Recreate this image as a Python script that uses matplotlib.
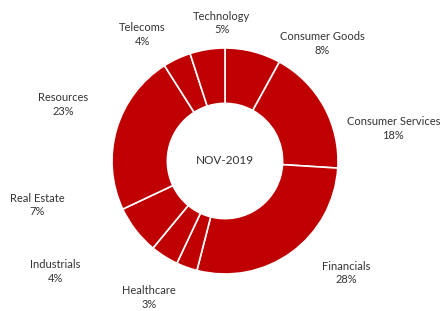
import matplotlib
matplotlib.use("Agg")
import matplotlib.pyplot as plt

# --- Data (clockwise from 12 o'clock) ---
sectors = ["Consumer Goods", "Consumer Services", "Financials", "Healthcare",
           "Industrials", "Real Estate", "Resources", "Telecoms", "Technology"]
weights = [8, 18, 28, 3, 4, 7, 23, 4, 5]
center_label = "NOV-2019"

# --- Label layout (data units, donut radius = 1) ---
label_pos = [(0.86, 1.04), (1.49, 0.29), (1.07, -0.99), (-0.67, -1.21),
             (-1.50, -0.98), (-1.66, -0.39), (-1.43, 0.50), (-0.73, 1.12),
             (-0.03, 1.22)]

plt.rcParams['font.family'] = ['Lato', 'DejaVu Sans']

fig = plt.figure(figsize=(4.42, 3.11), dpi=100)
ax = fig.add_axes([0, 0, 1, 1])

ax.pie(weights, startangle=90, counterclock=False, radius=1,
       colors=['#C00000'] * len(weights),
       wedgeprops=dict(width=0.49, edgecolor='white', linewidth=1.2))

for name, w, (x, y) in zip(sectors, weights, label_pos):
    ax.text(x, y, f"{name}\n{w}%", ha='center', va='center',
            fontsize=8, color='#333333', linespacing=1.3)

ax.text(0, 0, center_label, ha='center', va='center', fontsize=8.5, color='#333333')

ax.set_xlim(-225 / 113, 217 / 113)
ax.set_ylim(-150 / 113, 161 / 113)
ax.set_aspect('auto')
ax.axis('off')

fig.savefig("out.png", dpi=100)
